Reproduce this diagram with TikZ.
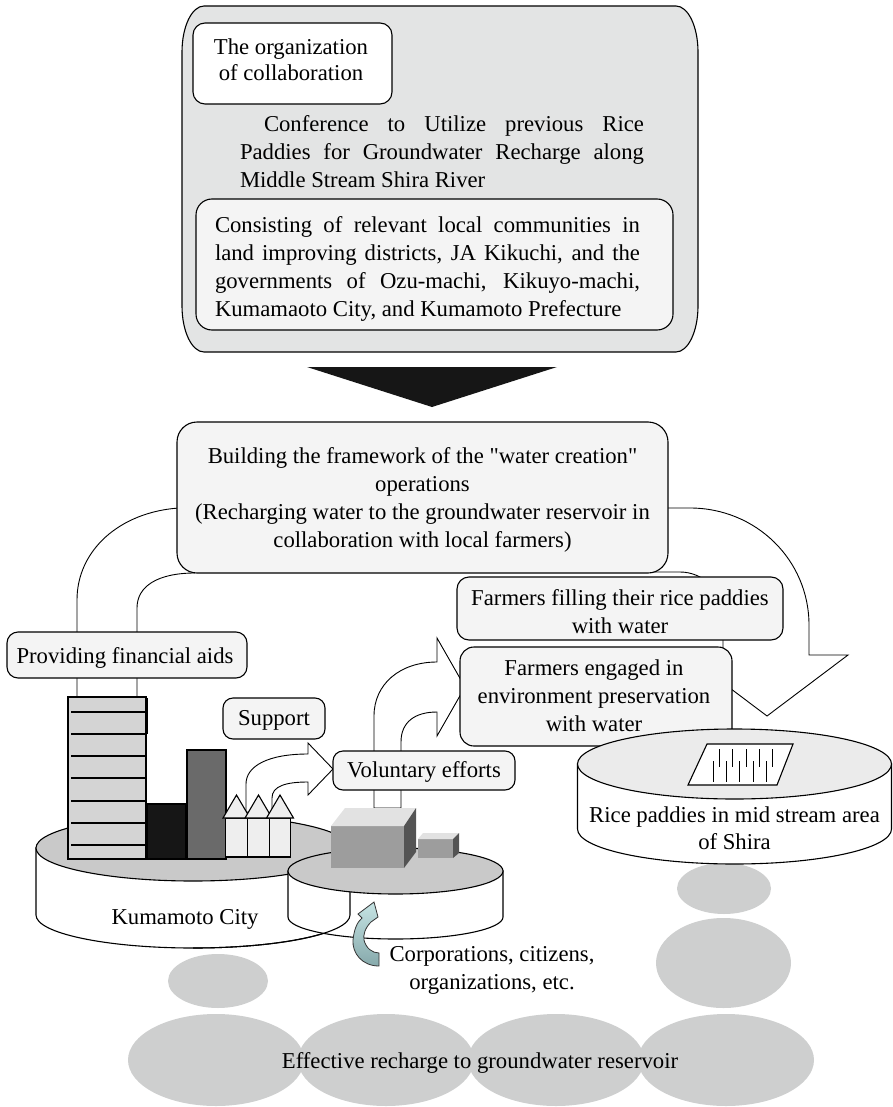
\documentclass[tikz,border=0pt]{standalone}
\usepackage{fontspec}
\setmainfont{Liberation Serif}[Ligatures=TeXOff]
\definecolor{panelgray}{HTML}{E3E4E4}
\definecolor{boxfill}{HTML}{F4F4F4}
\definecolor{discgray}{HTML}{C9C9C9}
\definecolor{disclight}{HTML}{EBEBEB}
\definecolor{watergray}{HTML}{CECFCF}
\definecolor{towergray}{HTML}{D4D4D4}
\definecolor{blockdark}{HTML}{161616}
\definecolor{blockmid}{HTML}{6A6A6A}
\definecolor{housefill}{HTML}{EEEEEE}
\definecolor{cubefront}{HTML}{9D9D9D}
\definecolor{cubetop}{HTML}{E2E2E2}
\definecolor{cubeside}{HTML}{545454}
\definecolor{arrowtop}{HTML}{C6E4E4}
\definecolor{arrowbottom}{HTML}{86A9AB}
\newcommand{\centred}[2]{\parbox[t]{#1}{\centering #2}}
\begin{document}
\begin{tikzpicture}[x=1pt, y=-1pt,
  txt/.style={inner sep=0pt, outer sep=0pt, anchor=base, font=\fontsize{22.7}{28}\selectfont},
  panel/.style={draw, line width=1.1pt, fill=boxfill, inner sep=0pt, outer sep=0pt, anchor=north west, rounded corners=#1},
  panel/.default=12pt,
  band/.style={draw, line width=0.9pt, fill=white, line join=miter},
  outline/.style={draw, line width=1.1pt}
]
\useasboundingbox (0,0) rectangle (893,1107);

% groundwater bodies
\fill[watergray] (216,1060) ellipse[x radius=88pt, y radius=46pt];
\fill[watergray] (386,1060) ellipse[x radius=88pt, y radius=46pt];
\fill[watergray] (556,1060) ellipse[x radius=88pt, y radius=46pt];
\fill[watergray] (726,1060) ellipse[x radius=88pt, y radius=46pt];
\fill[watergray] (218,981) ellipse[x radius=50pt, y radius=27pt];
\fill[watergray] (724,888.5) ellipse[x radius=47pt, y radius=25.5pt];
\fill[watergray] (723.5,963) ellipse[x radius=67.5pt, y radius=45pt];
\node[txt] (rechargetext) at (480,1068) {Effective recharge to groundwater reservoir};

% conference panel
\draw[line width=1.1pt, fill=panelgray]
  (204,6) -- (676,6) .. controls (688.1,6) and (698,26.6) .. (698,52)
  -- (698,306) .. controls (698,331.4) and (688.1,352) .. (676,352)
  -- (204,352) .. controls (191.9,352) and (182,331.4) .. (182,306)
  -- (182,52) .. controls (182,26.6) and (191.9,6) .. (204,6) -- cycle;
\node[panel=12pt, fill=white, minimum width=199pt, minimum height=81pt] (orgbox) at (193,23) {};
\node[txt] (orgtext) at (291,55) {\centred{190pt}{\fontsize{22.7}{26}\selectfont The organization\\ of collaboration}};
\node[txt, anchor=base west] (conftext) at (240,132) {\parbox[t]{404pt}{\hspace*{24pt}\makebox[380pt][s]{Conference to Utilize previous Rice}\\\makebox[404pt][s]{Paddies for Groundwater Recharge along}\\Middle Stream Shira River}};
\node[panel=16pt, minimum width=477pt, minimum height=131pt] (memberbox) at (196,199) {};
\node[txt, anchor=base west] (membertext) at (215,233) {\parbox[t]{425pt}{\fontsize{22.7}{27.7}\selectfont\makebox[425pt][s]{Consisting of relevant local communities in}\\\makebox[425pt][s]{land improving districts, JA Kikuchi, and the}\\\makebox[425pt][s]{governments of Ozu-machi, Kikuyo-machi,}\\Kumamaoto City, and Kumamoto Prefecture}};

% down arrow
\fill[blockdark] (307,367) -- (557,367) -- (432,407) -- cycle;

% Kumamoto City disc
\draw[outline, fill=white] (36,848) -- (36,915) arc[start angle=180, end angle=360, x radius=157pt, y radius=33pt] -- (350,848) -- cycle;
\draw[outline, fill=discgray] (193,848) ellipse[x radius=157pt, y radius=33pt];
% corporations disc
\draw[outline, fill=white] (288,871) -- (288,917) arc[start angle=180, end angle=360, x radius=107.5pt, y radius=22pt] -- (503,871) -- cycle;
\draw[outline, fill=discgray] (395.5,871) ellipse[x radius=107.5pt, y radius=23pt];
\draw[outline] (350,892) -- (350,915) arc[start angle=0, end angle=-90, x radius=157pt, y radius=33pt];
\node[txt] (citytext) at (185,924) {Kumamoto City};

% block arrows
\draw[band] (179,508) .. controls (120,512) and (77,550) .. (77,600) -- (77,697) -- (137,697)
  -- (137,608) .. controls (137,586) and (158,573) .. (195,573) -- (195,540) -- cycle;
\draw[band] (666,508) -- (690,508) .. controls (756,508) and (809,560) .. (809,625) -- (809,655)
  -- (848,655) -- (767,716) -- (686,655) -- (723,655) -- (723,616)
  .. controls (723,592) and (704,572) .. (680,572) -- (645,572) -- (645,520) -- cycle;
\draw[band] (374,808) -- (374,716) .. controls (374,684) and (400,662) .. (437,662) -- (437,638)
  -- (465,687) -- (437,736) -- (437,712) .. controls (415,712) and (401,722) .. (401,742) -- (401,808) -- cycle;
\draw[band] (246,812) -- (246,784) .. controls (246,766) and (268,754) .. (308,754) -- (308,743)
  -- (333,769) -- (308,795) -- (308,782) .. controls (286,782) and (272,786) .. (272,798) -- (272,815) -- cycle;

% city buildings
\draw[line width=1.1pt, fill=towergray] (68,697) rectangle (146,859);
\foreach \y in {712,734,756,778,801,823,845} \draw[line width=1.1pt] (71,\y) -- (147,\y);
\draw[line width=2pt] (146.5,698) -- (146.5,734);
\draw[line width=1.1pt, fill=blockdark] (147,804) rectangle (186,859);
\draw[line width=1.1pt, fill=blockmid] (187,750) rectangle (226,859);
\foreach \c in {236.5,258.5,280} \draw[line width=1.1pt, fill=housefill] (\c-10.75,818) rectangle (\c+10.75,857);
\foreach \c in {236.5,258.5,280} \draw[line width=1.1pt, fill=housefill, line join=miter] (\c-13.5,818) -- (\c,795) -- (\c+13.5,818) -- cycle;

% corporate blocks
\fill[cubefront] (331,826) rectangle (404,868);
\fill[cubetop] (345,808) -- (416,808) -- (404,826) -- (331,826) -- cycle;
\fill[cubeside] (404,826) -- (416,808) -- (416,852) -- (404,868) -- cycle;
\fill[cubefront] (418,839) rectangle (453,858);
\fill[cubetop] (423,833) -- (459,833) -- (453,839) -- (418,839) -- cycle;
\fill[cubeside] (453,839) -- (459,833) -- (459,853) -- (453,858) -- cycle;

% participation arrow
\draw[line width=0.8pt, draw=black!80, top color=arrowtop, bottom color=arrowbottom, line join=miter]
  (379,953) -- (379,966) .. controls (362,966) and (352,953) .. (353,940)
  .. controls (354,930) and (357,922) .. (362,918) -- (358,914) -- (374,902) -- (378,917) -- (371,922)
  .. controls (365,928) and (363,935) .. (364,940) .. controls (366,948) and (372,953) .. (379,953) -- cycle;
\node[txt] (corptext) at (492,961) {\centred{240pt}{Corporations, citizens,\\ organizations, etc.}};

% framework and action boxes
\node[panel=20pt, minimum width=491pt, minimum height=151pt] (framebox) at (177,422) {};
\node[txt] (frametext) at (422.5,463) {\centred{485pt}{\fontsize{22.7}{28.3}\selectfont Building the framework of the "water creation"\\ operations\\ (Recharging water to the groundwater reservoir in\\ collaboration with local farmers)}};
\node[panel=11pt, minimum width=240pt, minimum height=46pt] (aidbox) at (7,632) {};
\node[txt] (aidtext) at (125,663) {Providing financial aids};
\node[panel=10pt, minimum width=102pt, minimum height=41pt] (supportbox) at (223,698) {};
\node[txt] (supporttext) at (274,725) {Support};
\node[panel=10pt, minimum width=182pt, minimum height=39pt] (volbox) at (333,751) {};
\node[txt] (voltext) at (424,777) {Voluntary efforts};
\node[panel=12pt, minimum width=326pt, minimum height=63pt] (fillbox) at (457,577) {};
\node[txt] (filltext) at (620,605) {\centred{320pt}{Farmers filling their rice paddies\\ with water}};
\node[panel=14pt, minimum width=272pt, minimum height=99pt] (engagebox) at (460,647) {};
\node[txt] (engagetext) at (594,675) {\centred{265pt}{Farmers engaged in\\ environment preservation\\ with water}};

% rice paddy disc
\draw[outline, fill=white] (577.5,764) -- (577.5,829) arc[start angle=180, end angle=360, x radius=157pt, y radius=35pt] -- (891.5,764) -- cycle;
\draw[outline, fill=disclight] (734.5,764) ellipse[x radius=157pt, y radius=35pt];
\draw[line width=1.1pt, fill=white, line join=miter] (688,785) -- (777,785) -- (793,744) -- (707,744) -- cycle;
\foreach \x in {719,732,746,759,772} \draw[line width=1pt] (\x,749) -- (\x,767);
\foreach \x in {713,726,739,753,766} \draw[line width=1pt] (\x,761) -- (\x,782);
\node[txt] (ricetext) at (734.5,822) {\centred{310pt}{\fontsize{22.7}{27}\selectfont Rice paddies in mid stream area\\ of Shira}};
\end{tikzpicture}
\end{document}
